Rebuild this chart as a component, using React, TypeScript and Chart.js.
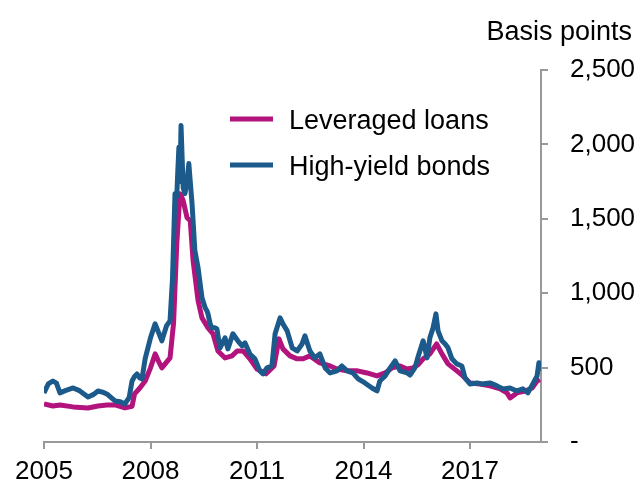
import React, { useEffect, useRef } from "react";
import { Chart, registerables } from "chart.js";

Chart.register(...registerables);

const FONT = "'Liberation Sans', Arial, sans-serif";

const seriesNames = ["Leveraged loans", "High-yield bonds"];
const seriesColors = ["#B2137C", "#1B5A8A"];
const xTickYears = [2005, 2008, 2011, 2014, 2017];
const yTickValues = [0, 500, 1000, 1500, 2000, 2500];
const unitLabel = "Basis points";

const llYears = [
  2005.0, 2005.25, 2005.45, 2005.82, 2006.24, 2006.52, 2006.77, 2007.0, 2007.28, 2007.48,
  2007.55, 2007.7, 2007.85, 2008.0, 2008.13, 2008.22, 2008.32, 2008.55, 2008.65, 2008.74,
  2008.83, 2008.92, 2009.03, 2009.12, 2009.2, 2009.34, 2009.45, 2009.62, 2009.76, 2009.9,
  2010.1, 2010.3, 2010.44, 2010.61, 2010.8, 2011.0, 2011.25, 2011.48, 2011.62, 2011.73,
  2011.93, 2012.13, 2012.3, 2012.49, 2012.77, 2013.06, 2013.25, 2013.54, 2013.83, 2014.1,
  2014.38, 2014.61, 2014.8, 2015.03, 2015.23, 2015.39, 2015.54, 2015.68, 2015.87, 2016.06,
  2016.21, 2016.38, 2016.63, 2016.8, 2017.0, 2017.28, 2017.56, 2017.85, 2018.04, 2018.13,
  2018.32, 2018.55, 2018.75, 2018.89, 2018.97,
];
const llValues = [
  256, 242, 249, 236, 229, 242, 249, 249, 229, 240,
  323, 363, 410, 498, 592, 545, 498, 565, 800, 1332,
  1669, 1622, 1507, 1487, 1218, 949, 834, 767, 727, 612,
  565, 579, 612, 612, 559, 491, 458, 511, 693, 626,
  579, 559, 559, 579, 532, 511, 491, 478, 478, 464,
  444, 464, 498, 511, 491, 498, 520, 559, 592, 659,
  592, 525, 478, 444, 397, 390, 377, 357, 330, 296,
  330, 343, 363, 410, 420,
];

const hyYears = [
  2005.0, 2005.12, 2005.25, 2005.35, 2005.45, 2005.6, 2005.82, 2006.0, 2006.24, 2006.4,
  2006.52, 2006.65, 2006.77, 2007.0, 2007.15, 2007.28, 2007.4, 2007.48, 2007.55, 2007.62,
  2007.7, 2007.76, 2007.85, 2008.0, 2008.13, 2008.22, 2008.32, 2008.45, 2008.55, 2008.62,
  2008.69, 2008.74, 2008.77, 2008.8, 2008.83, 2008.86, 2008.92, 2008.97, 2009.03, 2009.08,
  2009.12, 2009.17, 2009.25, 2009.34, 2009.45, 2009.54, 2009.59, 2009.62, 2009.68, 2009.73,
  2009.82, 2009.87, 2009.96, 2010.1, 2010.18, 2010.32, 2010.46, 2010.58, 2010.66, 2010.8,
  2010.94, 2011.08, 2011.17, 2011.28, 2011.42, 2011.51, 2011.65, 2011.73, 2011.85, 2011.99,
  2012.13, 2012.27, 2012.35, 2012.49, 2012.63, 2012.77, 2012.92, 2013.06, 2013.25, 2013.39,
  2013.54, 2013.7, 2013.85, 2014.04, 2014.24, 2014.38, 2014.46, 2014.61, 2014.75, 2014.89,
  2015.03, 2015.23, 2015.31, 2015.45, 2015.54, 2015.68, 2015.79, 2015.87, 2015.96, 2016.04,
  2016.1, 2016.21, 2016.3, 2016.38, 2016.49, 2016.63, 2016.77, 2016.86, 2017.0, 2017.2,
  2017.34, 2017.56, 2017.76, 2017.93, 2018.13, 2018.32, 2018.49, 2018.63, 2018.77, 2018.89,
  2018.94, 2018.97,
];
const hyValues = [
  330, 390, 410, 395, 330, 345, 363, 345, 303, 320,
  343, 335, 323, 276, 270, 256, 300, 410, 440, 457,
  430, 424, 560, 700, 794, 740, 680, 780, 814, 1100,
  1669, 1650, 1824, 1980, 1750, 2127, 1709, 1669, 1750, 1871,
  1750, 1602, 1285, 1171, 969, 902, 881, 861, 794, 767,
  767, 760, 633, 700, 626, 727, 680, 646, 666, 592,
  559, 478, 458, 498, 511, 727, 834, 794, 747, 633,
  612, 659, 713, 612, 565, 592, 498, 464, 478, 511,
  478, 464, 424, 397, 363, 343, 410, 444, 498, 545,
  478, 464, 450, 500, 575, 680, 565, 700, 767, 861,
  747, 680, 659, 633, 559, 525, 511, 431, 390, 397,
  390, 397, 377, 357, 363, 343, 357, 330, 390, 444,
  532, 478,
];

const toPoints = (xs: number[], ys: number[]) => xs.map((x, i) => ({ x, y: ys[i] }));

const overlayPlugin = {
  id: "overlayText",
  afterDraw(chart: any) {
    const ctx = chart.ctx as CanvasRenderingContext2D;
    ctx.save();
    ctx.font = `27px ${FONT}`;
    ctx.fillStyle = "#000";
    ctx.textBaseline = "alphabetic";
    ctx.textAlign = "right";
    ctx.fillText(unitLabel, 632, 40);
    const rows = [119, 165];
    seriesNames.forEach((name, i) => {
      ctx.strokeStyle = seriesColors[i];
      ctx.lineWidth = 5;
      ctx.lineCap = "butt";
      ctx.beginPath();
      ctx.moveTo(230, rows[i]);
      ctx.lineTo(273, rows[i]);
      ctx.stroke();
      ctx.textAlign = "left";
      ctx.fillText(name, 289, rows[i] + 9.5);
    });
    ctx.restore();
  },
};

export default function App() {
  const ref = useRef<HTMLCanvasElement | null>(null);
  useEffect(() => {
    if (!ref.current) return;
    const chart = new Chart(ref.current, {
      type: "line",
      data: {
        datasets: [
          {
            label: seriesNames[1],
            data: toPoints(hyYears, hyValues),
            borderColor: seriesColors[1],
            backgroundColor: seriesColors[1],
            borderWidth: 5,
            pointRadius: 0,
            tension: 0,
            borderJoinStyle: "round",
          },
          {
            label: seriesNames[0],
            data: toPoints(llYears, llValues),
            borderColor: seriesColors[0],
            backgroundColor: seriesColors[0],
            borderWidth: 5,
            pointRadius: 0,
            tension: 0,
            borderJoinStyle: "round",
          },
        ],
      },
      options: {
        animation: false,
        responsive: true,
        maintainAspectRatio: false,
        layout: { padding: { left: 44, top: 70, right: 0, bottom: 0 } },
        plugins: { legend: { display: false }, tooltip: { enabled: false } },
        scales: {
          x: {
            type: "linear",
            min: 2005,
            max: 2019,
            afterBuildTicks: (scale: any) => {
              scale.ticks = xTickYears.map((v) => ({ value: v }));
            },
            afterFit: (scale: any) => {
              scale.height = 42;
            },
            grid: { drawOnChartArea: false, drawTicks: true, tickLength: 7, color: "#999", lineWidth: 2 },
            border: { display: true, color: "#999", width: 2 },
            ticks: {
              color: "#000",
              font: { family: FONT, size: 26 },
              padding: 7,
              maxRotation: 0,
              autoSkip: false,
              callback: (v: any) => String(v),
            },
          },
          y: {
            position: "right",
            min: 0,
            max: 2500,
            afterBuildTicks: (scale: any) => {
              scale.ticks = yTickValues.map((v) => ({ value: v }));
            },
            afterFit: (scale: any) => {
              scale.width = 99;
            },
            grid: { drawOnChartArea: false, drawTicks: true, tickLength: 7, color: "#999", lineWidth: 2 },
            border: { display: true, color: "#999", width: 2 },
            ticks: {
              color: "#000",
              font: { family: FONT, size: 26 },
              padding: 22,
              callback: (v: any) => (Number(v) === 0 ? "-" : Number(v).toLocaleString("en-US")),
            },
          },
        },
      },
      plugins: [overlayPlugin],
    });
    return () => chart.destroy();
  }, []);
  return (
    <div style={{ position: "fixed", left: 0, top: 0, width: 640, height: 484, background: "#fff" }}>
      <canvas ref={ref} />
    </div>
  );
}
